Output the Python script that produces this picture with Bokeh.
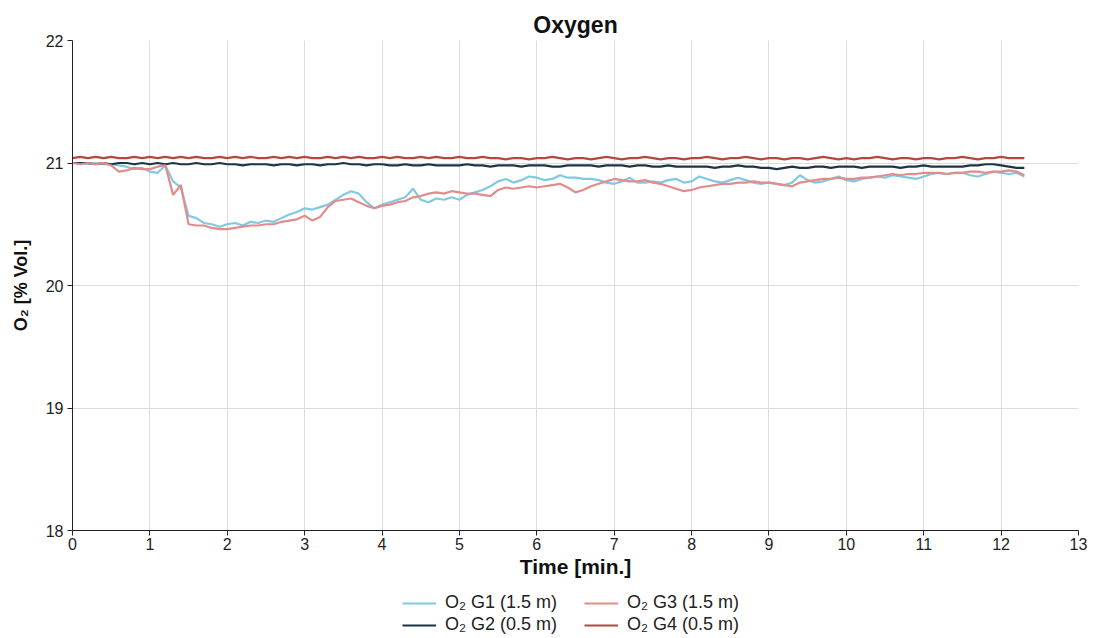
from bokeh.plotting import figure
from bokeh.layouts import column
from bokeh.models import Range1d, FixedTicker, Legend, LegendItem
from bokeh.embed import file_html
from bokeh.resources import INLINE

# time axis (minutes)
time_min = [round(i * 0.1, 1) for i in range(124)]

o2_g1 = [
    21.00, 21.00, 20.99, 21.00, 20.99, 20.99, 20.98, 20.97, 20.95, 20.96,
    20.93, 20.92, 20.98, 20.85, 20.80, 20.57, 20.55, 20.51, 20.50, 20.48,
    20.50, 20.51, 20.49, 20.52, 20.51, 20.53, 20.52, 20.55, 20.58, 20.60,
    20.63, 20.62, 20.64, 20.66, 20.70, 20.74, 20.77, 20.75, 20.68, 20.63,
    20.66, 20.68, 20.70, 20.72, 20.79, 20.70, 20.68, 20.71, 20.70, 20.72,
    20.70, 20.74, 20.76, 20.78, 20.81, 20.85, 20.87, 20.84, 20.86, 20.89,
    20.88, 20.86, 20.87, 20.90, 20.88, 20.88, 20.87, 20.87, 20.86, 20.84,
    20.83, 20.85, 20.88, 20.84, 20.84, 20.85, 20.84, 20.86, 20.87, 20.84,
    20.85, 20.89, 20.87, 20.85, 20.84, 20.86, 20.88, 20.86, 20.84, 20.83,
    20.84, 20.83, 20.82, 20.84, 20.90, 20.86, 20.84, 20.85, 20.87, 20.89,
    20.86, 20.85, 20.87, 20.88, 20.89, 20.88, 20.90, 20.89, 20.88, 20.87,
    20.89, 20.91, 20.92, 20.91, 20.92, 20.92, 20.90, 20.89, 20.91, 20.93,
    20.92, 20.91, 20.92, 20.89,
]

o2_g2 = [
    21.00, 21.00, 21.00, 20.99, 21.00, 20.99, 21.00, 21.00, 20.99, 21.00,
    20.99, 21.00, 20.99, 21.00, 20.99, 20.99, 21.00, 20.99, 20.99, 21.00,
    20.99, 20.99, 20.98, 20.99, 20.99, 20.99, 20.98, 20.99, 20.99, 20.98,
    20.99, 20.99, 20.98, 20.99, 20.99, 21.00, 20.99, 20.99, 20.98, 20.99,
    20.99, 20.98, 20.98, 20.99, 20.98, 20.98, 20.99, 20.98, 20.98, 20.98,
    20.98, 20.99, 20.98, 20.98, 20.97, 20.98, 20.98, 20.98, 20.97, 20.98,
    20.98, 20.98, 20.97, 20.97, 20.98, 20.98, 20.98, 20.98, 20.97, 20.98,
    20.98, 20.98, 20.97, 20.98, 20.98, 20.97, 20.97, 20.98, 20.97, 20.97,
    20.97, 20.97, 20.97, 20.96, 20.97, 20.97, 20.98, 20.97, 20.97, 20.96,
    20.96, 20.95, 20.96, 20.97, 20.96, 20.96, 20.97, 20.97, 20.96, 20.97,
    20.97, 20.97, 20.96, 20.97, 20.97, 20.97, 20.97, 20.96, 20.97, 20.97,
    20.98, 20.97, 20.97, 20.97, 20.97, 20.97, 20.98, 20.98, 20.99, 20.99,
    20.98, 20.97, 20.96, 20.96,
]

o2_g3 = [
    21.00, 20.99, 21.00, 20.99, 21.00, 20.98, 20.93, 20.94, 20.96, 20.95,
    20.95, 20.97, 20.98, 20.74, 20.82, 20.50, 20.49, 20.49, 20.47, 20.46,
    20.46, 20.47, 20.48, 20.49, 20.49, 20.50, 20.50, 20.52, 20.53, 20.54,
    20.57, 20.53, 20.56, 20.64, 20.69, 20.70, 20.71, 20.68, 20.65, 20.63,
    20.65, 20.66, 20.68, 20.69, 20.72, 20.73, 20.75, 20.76, 20.75, 20.77,
    20.76, 20.75, 20.75, 20.74, 20.73, 20.78, 20.80, 20.79, 20.80, 20.81,
    20.80, 20.81, 20.82, 20.83, 20.80, 20.76, 20.78, 20.81, 20.83, 20.85,
    20.87, 20.86, 20.85, 20.85, 20.86, 20.84, 20.83, 20.81, 20.79, 20.77,
    20.78, 20.80, 20.81, 20.82, 20.83, 20.83, 20.84, 20.84, 20.85, 20.84,
    20.84, 20.83, 20.82, 20.81, 20.84, 20.85, 20.86, 20.87, 20.87, 20.88,
    20.87, 20.87, 20.88, 20.88, 20.89, 20.90, 20.91, 20.90, 20.91, 20.91,
    20.92, 20.92, 20.92, 20.91, 20.92, 20.92, 20.93, 20.93, 20.92, 20.93,
    20.93, 20.94, 20.93, 20.90,
]

o2_g4 = [
    21.04, 21.05, 21.04, 21.05, 21.04, 21.05, 21.04, 21.04, 21.05, 21.04,
    21.05, 21.04, 21.05, 21.04, 21.05, 21.04, 21.05, 21.04, 21.04, 21.05,
    21.04, 21.05, 21.04, 21.05, 21.04, 21.04, 21.05, 21.04, 21.05, 21.04,
    21.05, 21.04, 21.04, 21.05, 21.04, 21.05, 21.04, 21.05, 21.04, 21.04,
    21.05, 21.04, 21.05, 21.04, 21.04, 21.05, 21.04, 21.05, 21.04, 21.04,
    21.05, 21.04, 21.04, 21.05, 21.04, 21.04, 21.03, 21.04, 21.04, 21.03,
    21.04, 21.04, 21.05, 21.04, 21.03, 21.04, 21.04, 21.03, 21.04, 21.05,
    21.04, 21.03, 21.04, 21.04, 21.05, 21.04, 21.03, 21.04, 21.04, 21.03,
    21.04, 21.04, 21.05, 21.04, 21.03, 21.04, 21.04, 21.05, 21.04, 21.03,
    21.04, 21.04, 21.03, 21.04, 21.04, 21.03, 21.04, 21.05, 21.04, 21.03,
    21.04, 21.03, 21.04, 21.04, 21.05, 21.04, 21.03, 21.04, 21.04, 21.03,
    21.04, 21.04, 21.03, 21.04, 21.04, 21.05, 21.04, 21.03, 21.04, 21.04,
    21.05, 21.04, 21.04, 21.04,
]

series_names = ["O₂ G1 (1.5 m)", "O₂ G2 (0.5 m)", "O₂ G3 (1.5 m)", "O₂ G4 (0.5 m)"]
series_colors = ["#82c8e2", "#1b3547", "#e28c8c", "#b4473f"]
x_ticks = list(range(0, 14))
y_ticks = [18, 19, 20, 21, 22]

FONT = "Liberation Sans"

p = figure(width=1096, height=580, output_backend="svg",
           toolbar_location=None,
           x_range=Range1d(0, 13), y_range=Range1d(18, 22),
           min_border_left=72, min_border_right=18, min_border_top=40,
           min_border_bottom=50)
p.title.text = "Oxygen"
p.title.align = "center"
p.title.text_font = FONT
p.title.text_font_size = "23px"
p.title.text_font_style = "bold"
p.title.text_color = "#111111"
p.title.offset = 0
p.title.standoff = 5
p.outline_line_color = None
p.background_fill_color = "white"
p.border_fill_color = "white"

for ys, c in zip([o2_g1, o2_g2, o2_g3, o2_g4], series_colors):
    p.line(time_min, ys, line_color=c, line_width=2.2)

p.xaxis.ticker = FixedTicker(ticks=x_ticks)
p.yaxis.ticker = FixedTicker(ticks=y_ticks)
p.xaxis.axis_label = "Time [min.]"
p.yaxis.axis_label = "O₂ [% Vol.]"
for ax in (p.xaxis, p.yaxis):
    ax.axis_label_text_font = FONT
    ax.axis_label_text_font_style = "bold"
    ax.axis_label_text_color = "#111111"
    ax.major_label_text_font = FONT
    ax.major_label_text_font_size = "16px"
    ax.major_label_text_color = "#222222"
    ax.axis_line_color = "#222222"
    ax.major_tick_line_color = "#222222"
    ax.major_tick_out = 5
    ax.major_tick_in = 0
    ax.minor_tick_line_color = None
p.xaxis.axis_label_text_font_size = "21px"
p.yaxis.axis_label_text_font_size = "18px"
p.xaxis.axis_label_standoff = 2
p.yaxis.axis_label_standoff = 12
p.xaxis.major_label_standoff = 2
p.yaxis.major_label_standoff = 4

p.xgrid.grid_line_color = "#dcdcdc"
p.ygrid.grid_line_color = "#dcdcdc"

# legend strip below the chart (its frame is aligned with the chart frame)
lg = figure(width=1096, height=58, output_backend="svg", toolbar_location=None,
            x_range=Range1d(0, 1), y_range=Range1d(0, 1),
            min_border_left=0, min_border_right=0, min_border_top=0,
            min_border_bottom=0)
lg.axis.visible = False
lg.grid.visible = False
lg.outline_line_color = None
lg.border_fill_color = "white"
lg.background_fill_color = "white"
nan = float("nan")
swatches = [lg.line([nan], [nan], line_color=c, line_width=2.2) for c in series_colors]

rows = [[0, 2], [1, 3]]
row_offsets = [25, 3]
for row, dy in zip(rows, row_offsets):
    items = [LegendItem(label=series_names[i], renderers=[swatches[i]]) for i in row]
    legend = Legend(items=items, orientation="horizontal",
                    label_text_font=FONT, label_text_font_size="18px",
                    label_text_color="#222222", glyph_width=34, glyph_height=18,
                    label_standoff=9, spacing=27, padding=1, margin=0,
                    border_line_color=None, background_fill_alpha=0,
                    location=(330, dy))
    lg.add_layout(legend)

layout = column(p, lg, spacing=0)
open("out.html", "w").write(file_html(layout, INLINE))
